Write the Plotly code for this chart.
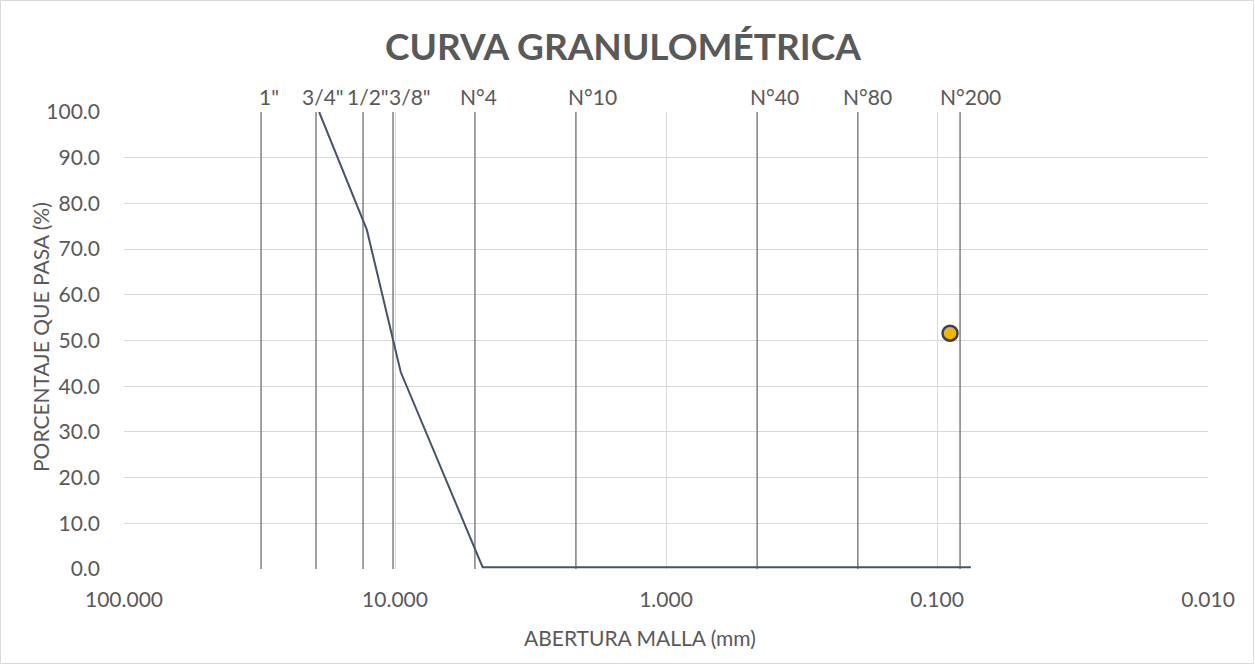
import math
import plotly.graph_objects as go

# ---- data ----
tamiz_mm = [19.05, 12.7, 9.525, 4.75, 2.0, 0.425, 0.18, 0.075]
porcentaje_pasa = [100.0, 74.2, 43.1, 0.4, 0.4, 0.4, 0.4, 0.4]

linea_tamiz_mm = [31.2, 19.56, 13.12, 10.17, 5.07, 2.15, 0.461, 0.196, 0.0822]
etiqueta_tamiz = ['1"', '3/4"', '1/2"', '3/8"', "N°4", "N°10", "N°40", "N°80", "N°200"]
etiqueta_x_mm = [29.2, 18.4, 12.6, 8.8, 4.90, 1.86, 0.399, 0.180, 0.075]
etiqueta_y = 103.3

punto_x = [0.0895]
punto_y = [51.6]

x_ticks = [100, 10, 1, 0.1, 0.01]
x_ticktext = ["100.000", "10.000", "1.000", "0.100", "0.010"]
y_ticks = [0, 10, 20, 30, 40, 50, 60, 70, 80, 90, 100]
y_max = 100

TXT = "#595959"
FONT = "Lato"

fig = go.Figure()

# vertical sieve lines
vx, vy = [], []
for v in linea_tamiz_mm:
    vx += [v, v, None]
    vy += [0, y_max, None]
fig.add_trace(go.Scatter(x=vx, y=vy, mode="lines",
                         line=dict(color="#808080", width=1.5),
                         hoverinfo="skip", showlegend=False))

# granulometric curve
fig.add_trace(go.Scatter(x=tamiz_mm, y=porcentaje_pasa, mode="lines",
                         line=dict(color="#44546A", width=2),
                         cliponaxis=False, showlegend=False))

# point
fig.add_trace(go.Scatter(x=punto_x, y=punto_y, mode="markers",
                         marker=dict(size=15, color="#F2B600",
                                     line=dict(color="#34435E", width=2.5)),
                         showlegend=False))

L, R, T, B = 124, 47, 112, 96
W, H = 1255, 665
pw, ph = W - L - R, H - T - B

def px_to_paper_x(px):
    return (px - L) / pw

def px_to_paper_y(py):
    return (H - B - py) / ph

# sieve labels: x in data (log) coordinates, y via paper fraction of the 0-100 axis
annotations = [
    dict(text=lab, xref="x", yref="paper", x=math.log10(xv), y=etiqueta_y / y_max,
         xanchor="center", yanchor="middle", showarrow=False,
         font=dict(family=FONT, size=21, color=TXT))
    for lab, xv in zip(etiqueta_tamiz, etiqueta_x_mm)
]
annotations += [
    dict(text="ABERTURA MALLA (mm)", xref="paper", yref="paper",
         x=px_to_paper_x(640), y=px_to_paper_y(637),
         xanchor="center", yanchor="middle", showarrow=False,
         font=dict(family=FONT, size=21, color=TXT)),
    dict(text="PORCENTAJE QUE PASA (%)", xref="paper", yref="paper",
         x=px_to_paper_x(40), y=px_to_paper_y(337), textangle=-90,
         xanchor="center", yanchor="middle", showarrow=False,
         font=dict(family=FONT, size=21, color=TXT)),
]

fig.update_layout(
    width=W, height=H,
    margin=dict(l=L, r=R, t=T, b=B),
    paper_bgcolor="white", plot_bgcolor="white",
    font=dict(family=FONT, color=TXT),
    title=dict(text="<b>CURVA GRANULOMÉTRICA</b>",
               font=dict(family=FONT, size=37, color=TXT),
               x=623 / W, xref="container", xanchor="center",
               y=1 - 47 / H, yref="container", yanchor="middle"),
    xaxis=dict(type="log", range=[2, -2], tickvals=x_ticks, ticktext=x_ticktext,
               showgrid=True, gridcolor="#D9D9D9", gridwidth=1,
               zeroline=False, showline=False,
               tickfont=dict(family=FONT, size=21, color=TXT),
               ticks="", ticklabelstandoff=16),
    yaxis=dict(range=[0, y_max], tickvals=y_ticks, tickformat=".1f",
               showgrid=True, gridcolor="#D9D9D9", gridwidth=1,
               zeroline=False, showline=False,
               tickfont=dict(family=FONT, size=21, color=TXT),
               ticks="", ticklabelstandoff=23),
    annotations=annotations,
    shapes=[
        dict(type="rect", xref="paper", yref="paper",
             x0=px_to_paper_x(0.5), x1=px_to_paper_x(W - 1.5),
             y0=px_to_paper_y(H - 1.5), y1=px_to_paper_y(0.5),
             line=dict(color="#D9D9D9", width=1), layer="below"),
    ],
)

fig.write_html("out.html",
               config=dict(displayModeBar=False),
               post_script="document.body.style.margin='0';document.body.style.overflow='hidden';")
